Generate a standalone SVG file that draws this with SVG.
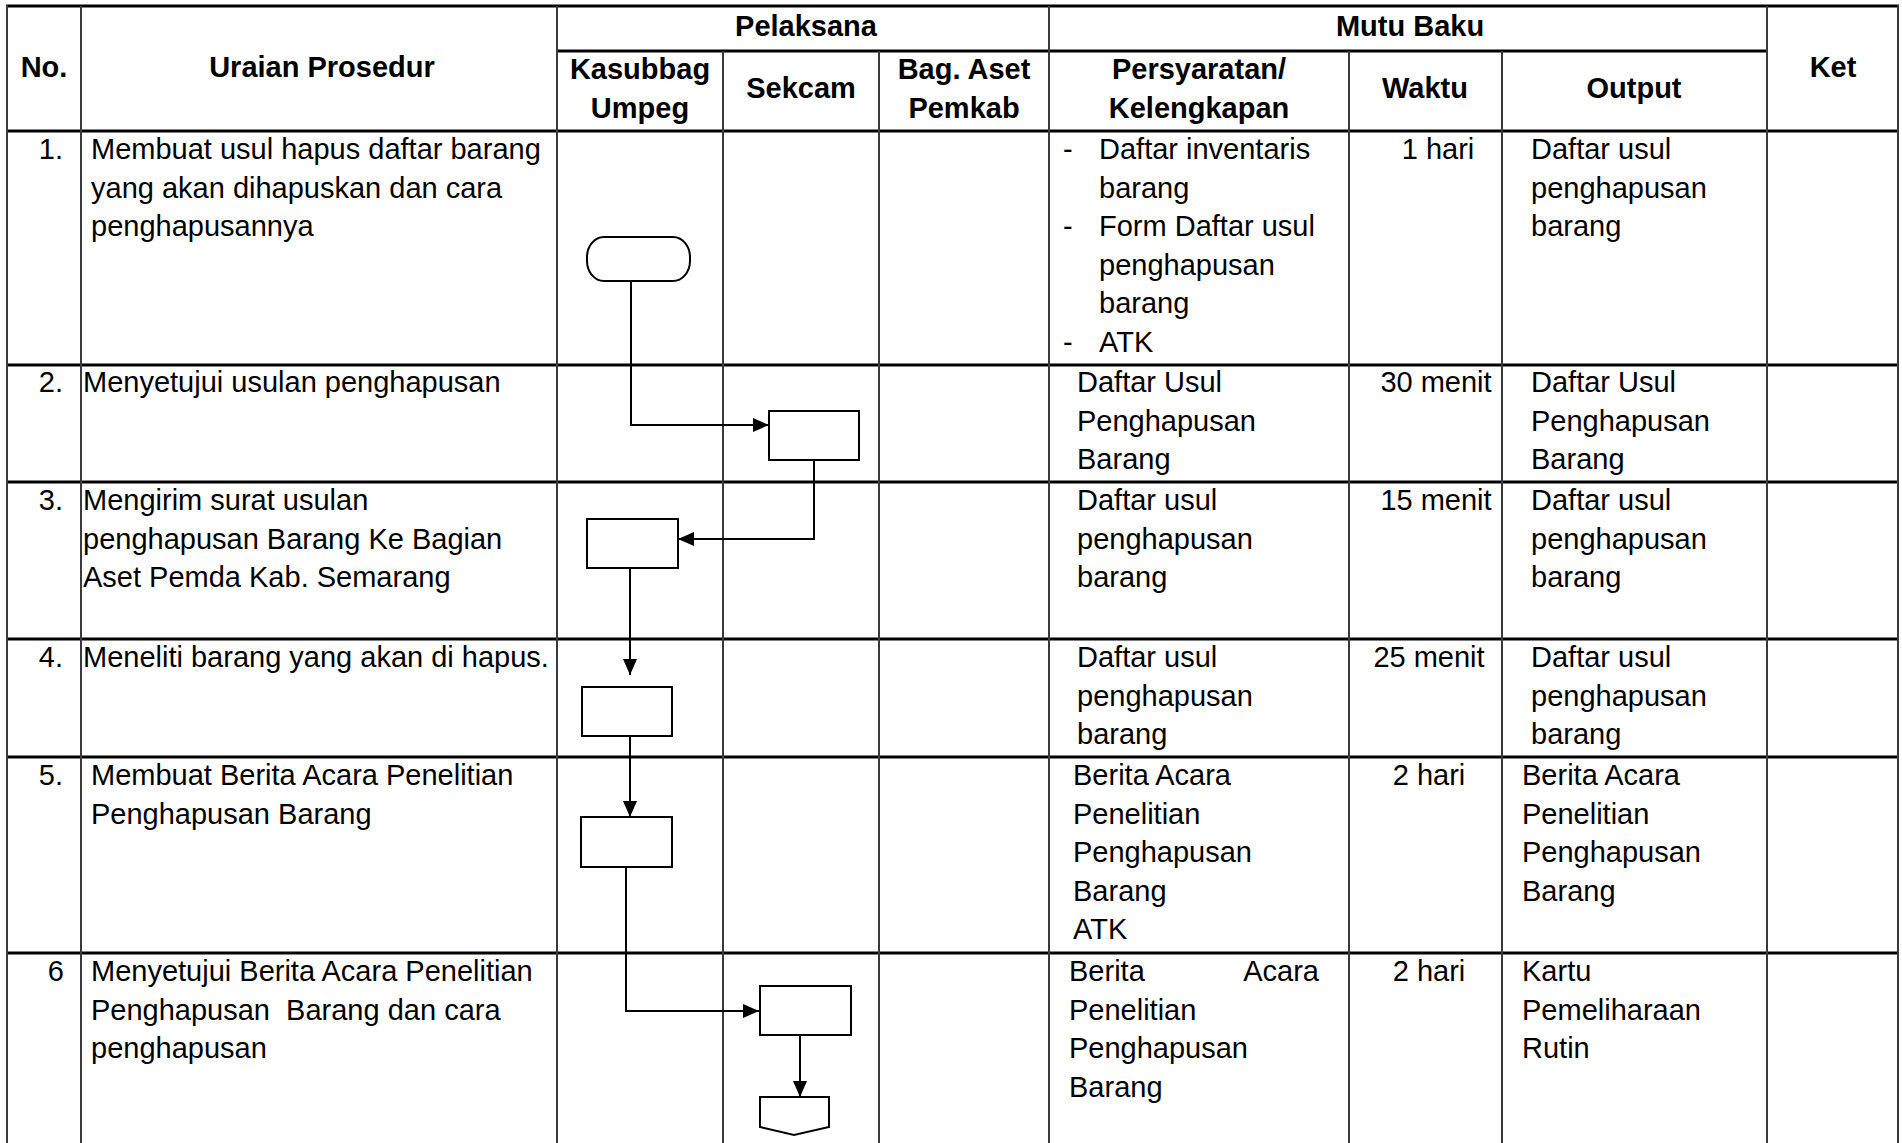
<svg xmlns="http://www.w3.org/2000/svg" width="1902" height="1143" viewBox="0 0 1902 1143">
<style>
  text { font-family: "Liberation Sans", Arial, sans-serif; font-size: 29px; fill: #000; }
  .h { font-weight: bold; text-anchor: middle; }
  .n { text-anchor: end; }
  .m { text-anchor: middle; }
  .pre { white-space: pre; }
  .hl { stroke: #000; stroke-width: 3; fill: none; }
  .vl { stroke: #3a3a3a; stroke-width: 2; fill: none; }
  .shape { fill: #fff; stroke: #000; stroke-width: 2; }
  .conn { fill: none; stroke: #000; stroke-width: 2; }
</style>
<defs>
  <marker id="arr" markerUnits="userSpaceOnUse" markerWidth="18" markerHeight="16" refX="16" refY="7" orient="auto">
    <path d="M0,0 L16,7 L0,14 Z" fill="#000"/>
  </marker>
</defs>
<rect x="0" y="0" width="1902" height="1143" fill="#fff"/>

<g id="table">
  <line class="hl" x1="6" y1="6" x2="1899" y2="6"/>
  <line class="hl" x1="557" y1="51" x2="1767" y2="51"/>
  <line class="hl" x1="6" y1="131" x2="1899" y2="131"/>
  <line class="hl" x1="6" y1="365" x2="1899" y2="365"/>
  <line class="hl" x1="6" y1="482" x2="1899" y2="482"/>
  <line class="hl" x1="6" y1="639" x2="1899" y2="639"/>
  <line class="hl" x1="6" y1="757" x2="1899" y2="757"/>
  <line class="hl" x1="6" y1="953" x2="1899" y2="953"/>
  <line class="vl" x1="7" y1="5" x2="7" y2="1143" stroke-width="2.5"/>
  <line class="vl" x1="81" y1="6" x2="81" y2="1143"/>
  <line class="vl" x1="557" y1="6" x2="557" y2="1143"/>
  <line class="vl" x1="723" y1="51" x2="723" y2="1143"/>
  <line class="vl" x1="879" y1="51" x2="879" y2="1143"/>
  <line class="vl" x1="1049" y1="6" x2="1049" y2="1143"/>
  <line class="vl" x1="1349" y1="51" x2="1349" y2="1143"/>
  <line class="vl" x1="1502" y1="51" x2="1502" y2="1143"/>
  <line class="vl" x1="1767" y1="6" x2="1767" y2="1143"/>
  <line class="vl" x1="1898" y1="5" x2="1898" y2="1143" stroke-width="3"/>
</g>

<g id="header">
  <text class="h" x="44" y="77">No.</text>
  <text class="h" x="322" y="77">Uraian Prosedur</text>
  <text class="h" x="806" y="36">Pelaksana</text>
  <text class="h" x="1410" y="36">Mutu Baku</text>
  <text class="h" x="1833" y="77">Ket</text>
  <text class="h" x="640" y="79">Kasubbag</text>
  <text class="h" x="640" y="118">Umpeg</text>
  <text class="h" x="801" y="98">Sekcam</text>
  <text class="h" x="964" y="79">Bag. Aset</text>
  <text class="h" x="964" y="118">Pemkab</text>
  <text class="h" x="1199" y="79">Persyaratan/</text>
  <text class="h" x="1199" y="118">Kelengkapan</text>
  <text class="h" x="1425" y="98">Waktu</text>
  <text class="h" x="1634" y="98">Output</text>
</g>

<g id="row1">
  <text class="n" x="63" y="159">1.</text>
  <text x="91" y="159">Membuat usul hapus daftar barang</text>
  <text x="91" y="197.5">yang akan dihapuskan dan cara</text>
  <text x="91" y="236">penghapusannya</text>
  <text x="1063" y="159">-</text>
  <text x="1063" y="236">-</text>
  <text x="1063" y="351.5">-</text>
  <text x="1099" y="159">Daftar inventaris</text>
  <text x="1099" y="197.5">barang</text>
  <text x="1099" y="236">Form Daftar usul</text>
  <text x="1099" y="274.5">penghapusan</text>
  <text x="1099" y="313">barang</text>
  <text x="1099" y="351.5">ATK</text>
  <text class="m" x="1438" y="159">1 hari</text>
  <text x="1531" y="159">Daftar usul</text>
  <text x="1531" y="197.5">penghapusan</text>
  <text x="1531" y="236">barang</text>
</g>

<g id="row2">
  <text class="n" x="63" y="392">2.</text>
  <text x="83" y="392">Menyetujui usulan penghapusan</text>
  <text x="1077" y="392">Daftar Usul</text>
  <text x="1077" y="430.5">Penghapusan</text>
  <text x="1077" y="469">Barang</text>
  <text class="m" x="1436" y="392">30 menit</text>
  <text x="1531" y="392">Daftar Usul</text>
  <text x="1531" y="430.5">Penghapusan</text>
  <text x="1531" y="469">Barang</text>
</g>

<g id="row3">
  <text class="n" x="63" y="510">3.</text>
  <text x="83" y="510">Mengirim surat usulan</text>
  <text x="83" y="548.5">penghapusan Barang Ke Bagian</text>
  <text x="83" y="587">Aset Pemda Kab. Semarang</text>
  <text x="1077" y="510">Daftar usul</text>
  <text x="1077" y="548.5">penghapusan</text>
  <text x="1077" y="587">barang</text>
  <text class="m" x="1436" y="510">15 menit</text>
  <text x="1531" y="510">Daftar usul</text>
  <text x="1531" y="548.5">penghapusan</text>
  <text x="1531" y="587">barang</text>
</g>

<g id="row4">
  <text class="n" x="63" y="667">4.</text>
  <text x="83" y="667">Meneliti barang yang akan di hapus.</text>
  <text x="1077" y="667">Daftar usul</text>
  <text x="1077" y="705.5">penghapusan</text>
  <text x="1077" y="744">barang</text>
  <text class="m" x="1429" y="667">25 menit</text>
  <text x="1531" y="667">Daftar usul</text>
  <text x="1531" y="705.5">penghapusan</text>
  <text x="1531" y="744">barang</text>
</g>

<g id="row5">
  <text class="n" x="63" y="785">5.</text>
  <text x="91" y="785">Membuat Berita Acara Penelitian</text>
  <text x="91" y="823.5">Penghapusan Barang</text>
  <text x="1073" y="785">Berita Acara</text>
  <text x="1073" y="823.5">Penelitian</text>
  <text x="1073" y="862">Penghapusan</text>
  <text x="1073" y="900.5">Barang</text>
  <text x="1073" y="939">ATK</text>
  <text class="m" x="1429" y="785">2 hari</text>
  <text x="1522" y="785">Berita Acara</text>
  <text x="1522" y="823.5">Penelitian</text>
  <text x="1522" y="862">Penghapusan</text>
  <text x="1522" y="900.5">Barang</text>
</g>

<g id="row6">
  <text class="n" x="64" y="981">6</text>
  <text x="91" y="981">Menyetujui Berita Acara Penelitian</text>
  <text class="pre" x="91" y="1019.5">Penghapusan  Barang dan cara</text>
  <text x="91" y="1058">penghapusan</text>
  <text x="1069" y="981">Berita</text>
  <text class="n" x="1319" y="981">Acara</text>
  <text x="1069" y="1019.5">Penelitian</text>
  <text x="1069" y="1058">Penghapusan</text>
  <text x="1069" y="1096.5">Barang</text>
  <text class="m" x="1429" y="981">2 hari</text>
  <text x="1522" y="981">Kartu</text>
  <text x="1522" y="1019.5">Pemeliharaan</text>
  <text x="1522" y="1058">Rutin</text>
</g>

<g id="connectors">
  <path class="conn" d="M631,281 V425 H769" marker-end="url(#arr)"/>
  <path class="conn" d="M814,460 V539 H678" marker-end="url(#arr)"/>
  <path class="conn" d="M630,568 V675" marker-end="url(#arr)"/>
  <path class="conn" d="M630,736 V817" marker-end="url(#arr)"/>
  <path class="conn" d="M626,867 V1011 H759" marker-end="url(#arr)"/>
  <path class="conn" d="M800,1035 V1097" marker-end="url(#arr)"/>
</g>

<g id="n1-start"><rect class="shape" x="587" y="237" width="103" height="44" rx="17" ry="20"/></g>
<g id="n2-sekcam"><rect class="shape" x="769" y="411" width="90" height="49"/></g>
<g id="n3-kirim"><rect class="shape" x="587" y="519" width="91" height="49"/></g>
<g id="n4-teliti"><rect class="shape" x="582" y="687" width="90" height="49"/></g>
<g id="n5-berita"><rect class="shape" x="581" y="817" width="91" height="50"/></g>
<g id="n6-setuju"><rect class="shape" x="760" y="986" width="91" height="49"/></g>
<g id="n7-offpage"><polygon class="shape" points="760,1097 829,1097 829,1127 794,1135 760,1127"/></g>
</svg>
